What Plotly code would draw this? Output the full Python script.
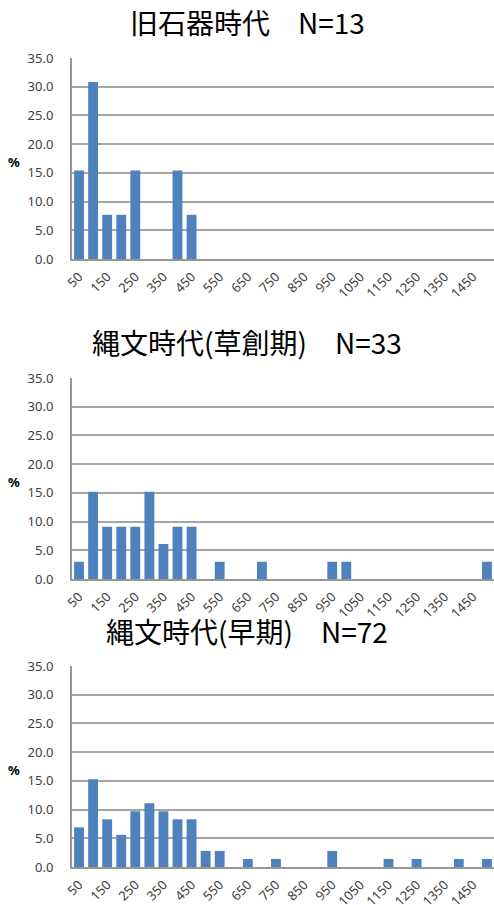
import plotly.graph_objects as go

categories = [str(v) for v in range(50, 1501, 50)]
tick_labels = [str(v) for v in range(50, 1451, 100)]

titles = ["旧石器時代　N=13", "縄文時代(草創期)　N=33", "縄文時代(早期)　N=72"]

paleolithic = [15.4, 30.8, 7.7, 7.7, 15.4, 0, 0, 15.4, 7.7, 0,
               0, 0, 0, 0, 0, 0, 0, 0, 0, 0,
               0, 0, 0, 0, 0, 0, 0, 0, 0, 0]
jomon_incipient = [3.0, 15.2, 9.1, 9.1, 9.1, 15.2, 6.1, 9.1, 9.1, 0,
                   3.0, 0, 0, 3.0, 0, 0, 0, 0, 3.0, 3.0,
                   0, 0, 0, 0, 0, 0, 0, 0, 0, 3.0]
jomon_initial = [6.9, 15.3, 8.3, 5.6, 9.7, 11.1, 9.7, 8.3, 8.3, 2.8,
                 2.8, 0, 1.4, 0, 1.4, 0, 0, 0, 2.8, 0,
                 0, 0, 1.4, 0, 1.4, 0, 0, 1.4, 0, 1.4]
series = [paleolithic, jomon_incipient, jomon_initial]

W, H = 494, 905
# pixel positions (top, bottom) of plot areas and title centers
plot_px = [(58, 259), (378, 579), (666, 867)]
title_px = [22, 342, 631]
x_left = 72

fig = go.Figure()
grid = "#a6a6a6"
axis_col = "#969696"
tick_font = dict(family="Noto Sans, Liberation Sans, sans-serif", size=13, color="#404040")

for i, vals in enumerate(series):
    n = i + 1
    xa = "x" if n == 1 else f"x{n}"
    ya = "y" if n == 1 else f"y{n}"
    fig.add_trace(go.Bar(x=categories, y=vals, marker=dict(color="#4F81BD", line=dict(width=0)),
                         xaxis=xa, yaxis=ya, showlegend=False))
    top, bot = plot_px[i]
    xkey = "xaxis" if n == 1 else f"xaxis{n}"
    ykey = "yaxis" if n == 1 else f"yaxis{n}"
    fig.layout[xkey] = dict(domain=[x_left / W, 1], anchor=ya, type="category",
                            categoryorder="array", categoryarray=categories,
                            tickmode="array", tickvals=tick_labels, ticktext=tick_labels,
                            tickangle=-45, tickfont=tick_font, showgrid=False,
                            showline=True, linecolor=axis_col, linewidth=2,
                            ticks="", ticklabelstandoff=3, automargin=False, fixedrange=True)
    fig.layout[ykey] = dict(domain=[1 - bot / H, 1 - top / H], anchor=xa,
                            range=[0, 35], tickmode="array",
                            tickvals=[0, 5, 10, 15, 20, 25, 30, 35],
                            ticktext=["0.0", "5.0", "10.0", "15.0", "20.0", "25.0", "30.0", "35.0"],
                            tickfont=tick_font, showgrid=True, gridcolor=grid, gridwidth=1.5,
                            showline=True, linecolor=axis_col, linewidth=2, zeroline=False,
                            ticks="", ticklabelstandoff=14, automargin=False, fixedrange=True)
    fig.add_annotation(text=titles[i], x=0.5, y=1 - title_px[i] / H, xref="paper", yref="paper",
                       showarrow=False, xanchor="center", yanchor="middle",
                       font=dict(family="Noto Sans CJK JP", size=28, color="#000000"))
    fig.add_annotation(text="<b>%</b>", x=14 / W, y=1 - ((top + bot) / 2 + 3) / H,
                       xref="paper", yref="paper", showarrow=False,
                       xanchor="center", yanchor="middle",
                       font=dict(family="Noto Sans, sans-serif", size=13, color="#000000"))

fig.update_layout(width=W, height=H, margin=dict(l=0, r=0, t=0, b=0, autoexpand=False),
                  paper_bgcolor="white", plot_bgcolor="white", bargap=0.3)

fig.write_html("out.html")
